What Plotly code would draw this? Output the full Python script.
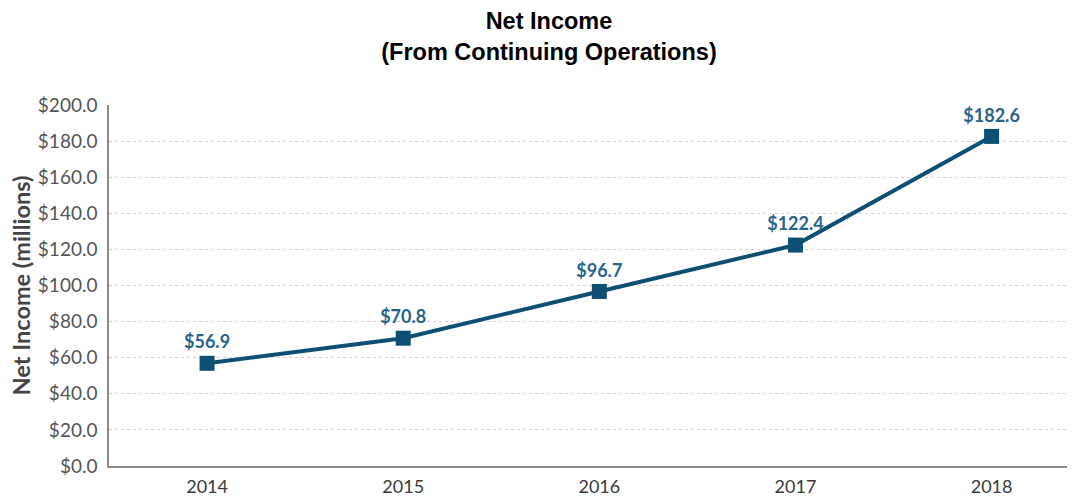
import plotly.graph_objects as go

years = ["2014", "2015", "2016", "2017", "2018"]
net_income = [56.9, 70.8, 96.7, 122.4, 182.6]
labels = ["$56.9", "$70.8", "$96.7", "$122.4", "$182.6"]

line_color = "#0f4f73"
label_color = "#2a6488"

fig = go.Figure()
fig.add_trace(go.Scatter(
    x=years, y=net_income, mode="lines+markers+text",
    line=dict(color=line_color, width=4),
    marker=dict(symbol="square", size=15, color=line_color),
    text=labels, textposition="top center",
    textfont=dict(family="Lato", size=18, color=label_color, weight="bold"),
    cliponaxis=False, hoverinfo="skip"
))

fig.update_layout(
    width=1067, height=488,
    margin=dict(l=101, r=3, t=97, b=30),
    paper_bgcolor="white", plot_bgcolor="white",
    showlegend=False,
    title=dict(
        text="<b>Net Income<br>(From Continuing Operations)</b>",
        x=0.507, xanchor="center", y=0.956, yanchor="top",
        font=dict(family="Liberation Sans", size=23.5, color="black"),
    ),
    xaxis=dict(
        type="category", range=[-0.5, 4.41], automargin=False,
        showgrid=False, showline=True, linecolor="#8a8a8a", linewidth=1.5,
        ticks="", ticklabelstandoff=4,
        tickfont=dict(family="Lato", size=18, color="#3a3a3a"),
        fixedrange=True,
    ),
    yaxis=dict(
        range=[0, 200], dtick=20, tickformat="$.1f", automargin=False,
        showgrid=True, gridcolor="#d0d0d0", griddash="dot", gridwidth=1,
        showline=True, linecolor="#8a8a8a", linewidth=1.5, zeroline=False,
        ticks="", ticklabelstandoff=6,
        tickfont=dict(family="Lato", size=19, color="#555555"),
    ),
    annotations=[dict(
        text="Net Income (millions)", textangle=-90,
        xref="paper", yref="paper", x=-0.0915, y=0.5,
        xanchor="center", yanchor="middle", showarrow=False,
        font=dict(family="Lato", size=23.5, color="#444444", weight="bold"),
    )],
)

fig.write_html("out.html")
